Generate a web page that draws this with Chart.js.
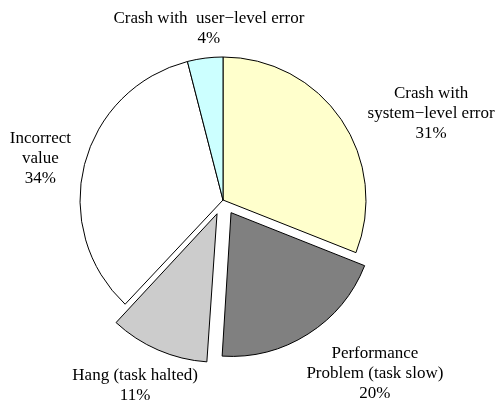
<!DOCTYPE html>
<html>
<head>
<meta charset="utf-8">
<script src="https://cdn.jsdelivr.net/npm/chart.js@4/dist/chart.umd.min.js"></script>
<style>
html,body{margin:0;padding:0;background:#fff;}
#wrap{width:498px;height:403px;position:relative;}
#probe{position:absolute;left:-1000px;top:0;font:17px "Liberation Serif","Times New Roman",Times,serif;}
</style>
</head>
<body>
<div id="probe">Crash with user level error 31%</div>
<div id="wrap"><canvas id="c" width="498" height="403"></canvas></div>
<script>
// ---- data ----
const categories = [
  ["Crash with", "system\u2212level error"],
  ["Performance", "Problem (task slow)"],
  ["Hang (task halted)"],
  ["Incorrect", "value"],
  ["Crash with  user\u2212level error"]
];
const shares = [31, 20, 11, 34, 4];
const exploded = [false, true, true, false, false];
const sliceColors = ["#FFFFCC", "#808080", "#CCCCCC", "#FFFFFF", "#CCFFFF"];

// label placement: radial distance (in radii) and angular nudge (deg) from slice middle
const labelRadial = [1.575, 1.509, 1.331, 1.309, 1.204];
const labelNudge = [11.7, -9.4, 2.1, -1.7, 2.5];

const FONT = '17px "Liberation Serif", "Times New Roman", Times, "DejaVu Serif", serif';

const pieLabels = {
  id: 'pieLabels',
  afterDatasetsDraw(chart) {
    const ctx = chart.ctx;
    const meta = chart.getDatasetMeta(0);
    ctx.save();
    ctx.font = FONT;
    ctx.fillStyle = '#000';
    ctx.textAlign = 'center';
    ctx.textBaseline = 'middle';
    const lineH = 20;
    meta.data.forEach((arc, i) => {
      const p = arc.getProps(['x', 'y', 'startAngle', 'endAngle', 'outerRadius'], true);
      const mid = (p.startAngle + p.endAngle) / 2;
      const shift = (arc.options.offset || 0) / 4;
      const cx = p.x + Math.cos(mid) * shift;
      const cy = p.y + Math.sin(mid) * shift;
      const a = mid + labelNudge[i] * Math.PI / 180;
      const d = labelRadial[i] * p.outerRadius;
      const lx = cx + Math.cos(a) * d;
      const ly = cy + Math.sin(a) * d;
      const lines = categories[i].concat([shares[i] + '%']);
      lines.forEach((t, j) => {
        ctx.fillText(t, lx, ly + (j - (lines.length - 1) / 2) * lineH);
      });
    });
    ctx.restore();
  }
};

function build() {
  new Chart(document.getElementById('c'), {
    type: 'pie',
    data: {
      labels: categories.map(c => c.join(' ')),
      datasets: [{
        data: shares,
        backgroundColor: sliceColors,
        borderColor: '#000',
        borderWidth: 1,
        borderJoinStyle: 'miter',
        offset: exploded.map(e => e ? 60 : 0),
        radius: 143
      }]
    },
    options: {
      responsive: false,
      animation: false,
      layout: { padding: { left: 0, right: 52, top: 0, bottom: 3 } },
      plugins: {
        legend: { display: false },
        tooltip: { enabled: false }
      }
    },
    plugins: [pieLabels]
  });
}
if (document.fonts && document.fonts.load) {
  document.fonts.load(FONT).then(build, build);
} else {
  build();
}
</script>
</body>
</html>
